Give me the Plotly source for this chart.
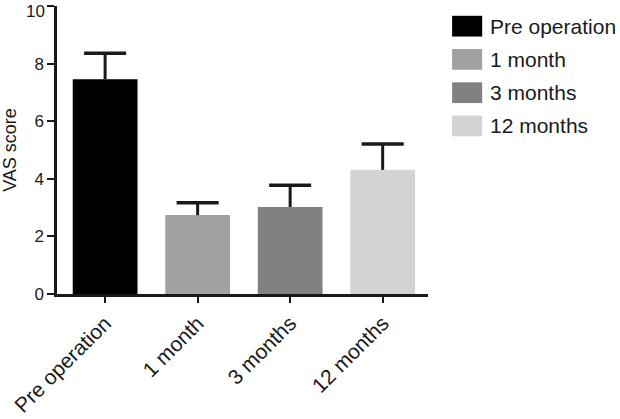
import plotly.graph_objects as go

categories = ["Pre operation", "1 month", "3 months", "12 months"]
vas_mean = [7.46, 2.74, 3.02, 4.31]
vas_sd = [0.90, 0.43, 0.76, 0.90]
colors = ["#000000", "#a1a1a3", "#818183", "#d3d3d5"]
y_ticks = [0, 2, 4, 6, 8, 10]
y_tick_labels = ["0", "2", "4", "6", "8", "10"]

FONT = "Arial, Liberation Sans, sans-serif"
INK = "#1a1a1a"

fig = go.Figure()
for cat, m, sd, col in zip(categories, vas_mean, vas_sd, colors):
    fig.add_trace(go.Bar(
        x=[cat], y=[m], width=0.7,
        marker=dict(color=col, line=dict(width=0)),
        error_y=dict(type="data", array=[sd], arrayminus=[0], symmetric=False,
                     color=INK, thickness=3, width=0),
        showlegend=False, name=cat,
    ))

# caps on the upper end of the error bars only
fig.add_trace(go.Scatter(
    x=categories, y=[m + s for m, s in zip(vas_mean, vas_sd)],
    mode="markers", showlegend=False, hoverinfo="skip",
    marker=dict(symbol="line-ew", size=30, color=INK,
                line=dict(width=3.5, color=INK)),
))

# legend drawn as swatches + labels (paper coordinates)
shapes, annotations = [], []
y0_leg, step = 0.930, 0.1155
for i, (cat, col) in enumerate(zip(categories, colors)):
    yc = y0_leg - i * step
    shapes.append(dict(type="rect", xref="paper", yref="paper",
                       x0=1.065, x1=1.146, y0=yc - 0.036, y1=yc + 0.036,
                       fillcolor=col, line=dict(width=0)))
    annotations.append(dict(xref="paper", yref="paper", x=1.162, y=yc,
                            xanchor="left", yanchor="middle", showarrow=False,
                            text=cat, font=dict(family=FONT, size=21, color=INK)))

# the top tick label sits slightly below its tick (as in the reference);
# a blank placeholder of equal width keeps the axis title spacing
tick_text = list(y_tick_labels)
tick_text[-1] = "\u2007" * len(y_tick_labels[-1])
annotations.append(dict(xref="paper", yref="y", x=0, y=y_ticks[-1],
                        xanchor="right", yanchor="middle", xshift=-10, yshift=-5,
                        showarrow=False, text=y_tick_labels[-1],
                        font=dict(family=FONT, size=17, color=INK)))

fig.update_layout(
    width=620, height=419,
    margin=dict(l=57, r=192, t=6, b=125, pad=0),
    paper_bgcolor="white", plot_bgcolor="white",
    barmode="overlay",
    shapes=shapes, annotations=annotations,
    font=dict(family=FONT, color=INK),
)
fig.update_xaxes(
    type="category", range=[-0.52, 3.49], automargin=False,
    showline=True, linewidth=2.5, linecolor=INK,
    ticks="outside", ticklen=6, tickwidth=2, tickcolor=INK,
    tickangle=-45, tickfont=dict(size=21, family=FONT, color=INK),
    showgrid=False, zeroline=False,
)
fig.update_yaxes(
    range=[0, 10], tickvals=y_ticks, ticktext=tick_text, automargin=False,
    ticklabeloverflow="allow",
    showline=True, linewidth=2.5, linecolor=INK,
    ticks="outside", ticklen=7, tickwidth=2, tickcolor=INK,
    tickfont=dict(size=17, family=FONT, color=INK),
    title=dict(text="VAS score", font=dict(size=18, family=FONT, color=INK), standoff=4),
    showgrid=False, zeroline=False,
)

fig.write_html("out.html", config={"displayModeBar": False},
               post_script="document.body.style.margin='0';")
